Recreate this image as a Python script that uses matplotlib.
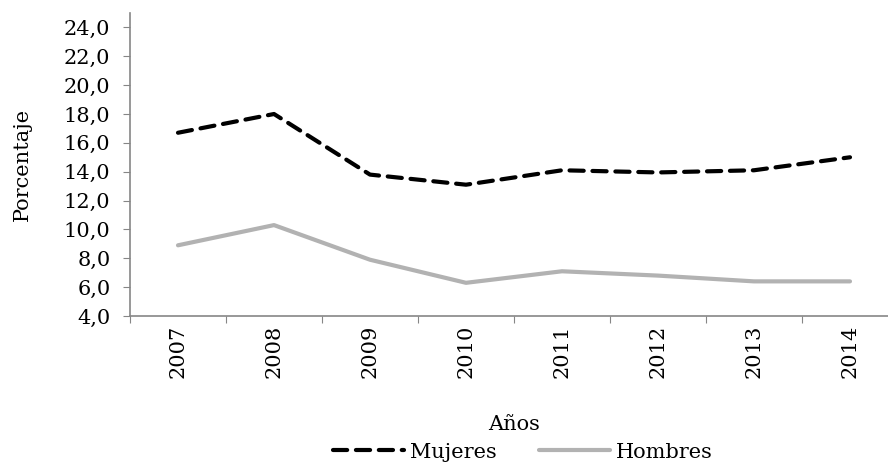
import numpy as np
import matplotlib.pyplot as plt
from matplotlib.lines import Line2D
from matplotlib.ticker import FuncFormatter, FixedLocator

years = ['2007', '2008', '2009', '2010', '2011', '2012', '2013', '2014']
mujeres = [16.7, 18.0, 13.8, 13.1, 14.1, 13.95, 14.1, 15.0]
hombres = [8.9, 10.3, 7.9, 6.3, 7.1, 6.8, 6.4, 6.4]

plt.rcParams['font.family'] = ['DejaVu Serif']
plt.rcParams['font.size'] = 15

axis_col = '#868686'
grey = '#B2B2B2'
dash = (0, (3.4, 2.1))

fig = plt.figure(figsize=(8.88, 4.63), dpi=100)
ax = fig.add_axes([130 / 888, 1 - 316 / 463, 768 / 888, 303 / 463])

xc = np.arange(len(years)) + 0.5

ax.plot(xc, mujeres, color='black', linewidth=3.0, linestyle=dash,
        dash_capstyle='round', solid_joinstyle='round', label='Mujeres')
ax.plot(xc, hombres, color=grey, linewidth=3.0, solid_capstyle='round',
        solid_joinstyle='round', label='Hombres')

ax.set_xlim(0, len(years))
ax.set_ylim(4, 25)
ax.set_yticks(np.arange(4, 25, 2))
ax.yaxis.set_major_formatter(FuncFormatter(lambda v, p: f'{v:.1f}'.replace('.', ',')))

ax.xaxis.set_major_locator(FixedLocator(np.arange(0, len(years) + 1)))
ax.xaxis.set_minor_locator(FixedLocator(xc))
ax.set_xticklabels([], minor=False)
ax.set_xticklabels(years, minor=True, rotation=90)
ax.tick_params(axis='x', which='major', length=5, color=axis_col, direction='out')
ax.tick_params(axis='x', which='minor', length=0, pad=6)
ax.tick_params(axis='y', length=5, color=axis_col, direction='out', pad=9)

for s in ['top', 'right']:
    ax.spines[s].set_visible(False)
for s in ['left', 'bottom']:
    ax.spines[s].set_color(axis_col)
    ax.spines[s].set_linewidth(1.2)

ax.set_ylabel('Porcentaje')
ax.yaxis.set_label_coords((32 - 130) / 768, 0.5)
fig.text(514 / 888, 1 - 425 / 463, 'Años', ha='center', va='center')

handles = [
    Line2D([], [], color='black', linewidth=3.0, linestyle=dash,
           dash_capstyle='round'),
    Line2D([], [], color=grey, linewidth=3.0, solid_capstyle='round'),
]
fig.legend(handles, ['Mujeres', 'Hombres'], loc='center',
           bbox_to_anchor=(523 / 888, 1 - 452 / 463), ncol=2, frameon=False,
           handlelength=3.4, handletextpad=0.3, columnspacing=2.0,
           borderpad=0, borderaxespad=0)

fig.savefig('out.png', dpi=100)
